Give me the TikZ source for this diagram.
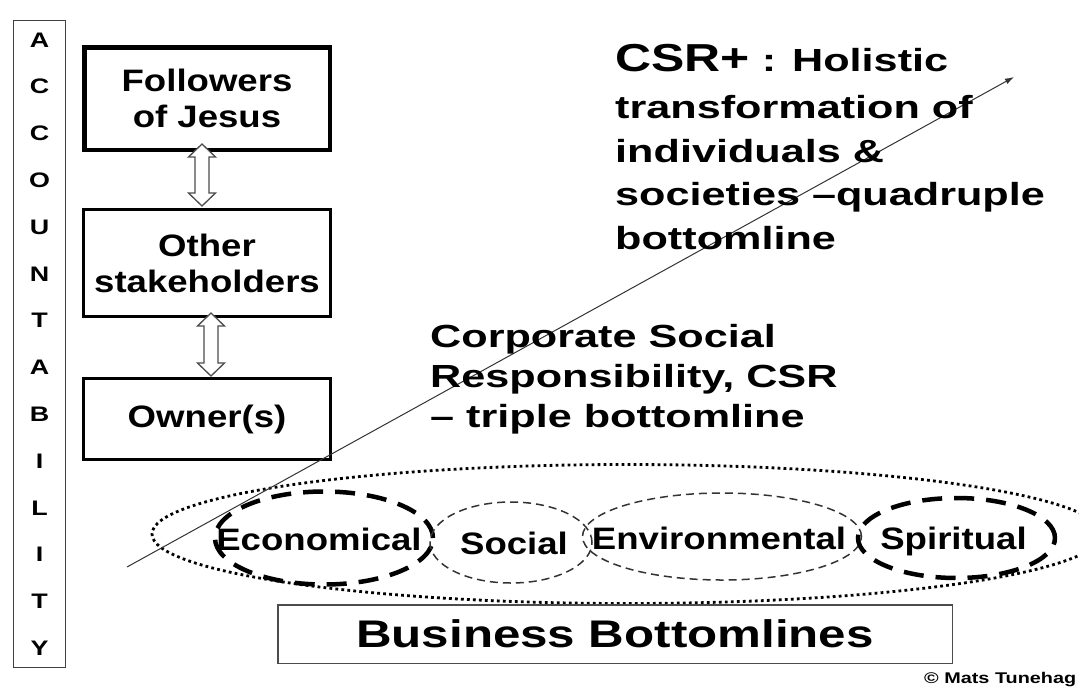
\documentclass[tikz,border=0pt]{standalone}
\usepackage{fontspec}
\setmainfont{Liberation Sans}
\newfontfamily\fa{Liberation Sans}[FakeStretch=1.18]
\newfontfamily\fb{Liberation Sans}[FakeStretch=1.28]
\newfontfamily\fc{Liberation Sans}[FakeStretch=1.35]
\usetikzlibrary{shapes.geometric,arrows.meta,calc}
\newcommand\hollowdbl[2]{\path[hollow] let \p1=(#1), \p2=(#2) in
  (\x1,\y1) -- (\x1+13.5pt,\y1-13pt) -- (\x1+7pt,\y1-13pt) -- (\x1+7pt,\y2+13pt)
  -- (\x1+13.5pt,\y2+13pt) -- (\x1,\y2) -- (\x1-13.5pt,\y2+13pt) -- (\x1-7pt,\y2+13pt)
  -- (\x1-7pt,\y1-13pt) -- (\x1-13.5pt,\y1-13pt) -- cycle;}
\begin{document}
\begin{tikzpicture}[x=1pt,y=-1pt,
  boxtext/.style={font=\fa\bfseries\fontsize{31}{36}\selectfont, align=center, inner sep=0pt},
  stakebox/.style={boxtext, draw=black, line width=2.8pt, minimum width=247.2pt, minimum height=107.2pt},
  hollow/.style={draw=black!70, line width=1.3pt, fill=white},
  sidetext/.style={font=\fc\bfseries\fontsize{32}{43.5}\selectfont, align=left, inner sep=0pt, anchor=north west},
  ovaltext/.style={font=\fa\bfseries\fontsize{31}{36}\selectfont, inner sep=0pt, text height=22pt, text depth=0pt},
  oval/.style={ellipse, inner sep=0pt},
  thickdash/.style={oval, draw=black, line width=4.5pt, dash pattern=on 20pt off 12pt},
  thindash/.style={oval, draw=black!80, line width=1.5pt, dash pattern=on 8pt off 5pt},
  dotline/.style={oval, draw=black, line width=2.8pt, dash pattern=on 2.8pt off 3.2pt}
]
\useasboundingbox (0,0) rectangle (1079,686);
\clip (0,0) rectangle (1079,686);

% accountability column
\node[draw=black!75, line width=1.2pt, minimum width=51.8pt, minimum height=646.8pt,
      align=center, inner sep=0pt, font=\fb\bfseries\fontsize{21}{46.8}\selectfont]
  (acc) at (39.5,344) {A\\C\\C\\O\\U\\N\\T\\A\\B\\I\\L\\I\\T\\Y};

% stakeholder boxes
\node[stakebox, line width=4.5pt, minimum width=245.5pt, minimum height=102.5pt]
  (fj) at (207,98.5) {Followers\\of Jesus};
\node[stakebox] (os) at (207,263) {Other\\stakeholders};
\node[stakebox, minimum height=81.2pt] (ow) at (207,419) {Owner(s)};

\coordinate (a1t) at ([xshift=-5pt,yshift=8pt]fj.south);
\coordinate (a1b) at ([xshift=-5pt,yshift=2pt]os.north);
\coordinate (a2t) at ([xshift=4pt,yshift=5pt]os.south);
\coordinate (a2b) at ([xshift=4pt,yshift=1pt]ow.north);
\hollowdbl{a1t}{a1b}
\hollowdbl{a2t}{a2b}

% bottomline ellipses
\node[dotline, minimum width=950pt, minimum height=139pt] (all) at (627,534) {};
\node[thickdash, minimum width=218pt, minimum height=93pt] (eco) at (324,538) {};
\node[thindash, minimum width=162pt, minimum height=81pt] (soc) at (511,542.5) {};
\node[thindash, minimum width=279pt, minimum height=87pt] (env) at (722,536.5) {};
\node[thickdash, minimum width=197pt, minimum height=80pt] (spi) at (956.5,538) {};

% diagonal arrow
\coordinate (ls) at (127,567);
\coordinate (le) at (1014,77);
\draw[black!80, line width=1pt, -{Latex[length=9pt,width=6pt]}] (ls) -- (le);

% labels of ellipses
\node[ovaltext] (ecot) at ([xshift=-5pt,yshift=-1pt]eco.center) {Economical};
\node[ovaltext] (soct) at ([xshift=3pt,yshift=-1pt]soc.center) {Social};
\node[ovaltext] (envt) at ([xshift=-3pt,yshift=-2pt]env.center) {Environmental};
\node[ovaltext] (spit) at ([xshift=-3pt]spi.center) {Spiritual};

% business bottomlines
\node[draw=black!70, line width=1.5pt, minimum width=674.5pt, minimum height=58.5pt,
      inner sep=0pt, font=\fb\bfseries\fontsize{38.5}{44}\selectfont]
  (bb) at (615,634) {Business Bottomlines};

% side texts
\node[sidetext] (csr) at (615,44.5)
  {{\fb\fontsize{39}{43.5}\selectfont CSR+} : Holistic\\[3.5pt]
   transformation of\\individuals \&\\societies –quadruple\\bottomline};
\node[sidetext, font=\fc\bfseries\fontsize{32}{40}\selectfont] (csrt) at (430,324)
  {Corporate Social\\Responsibility, CSR\\– triple bottomline};

% copyright
\node[anchor=base west, inner sep=0pt, font=\fb\bfseries\fontsize{15.5}{18}\selectfont]
  (copy) at (924,683) {© Mats Tunehag};
\end{tikzpicture}
\end{document}
